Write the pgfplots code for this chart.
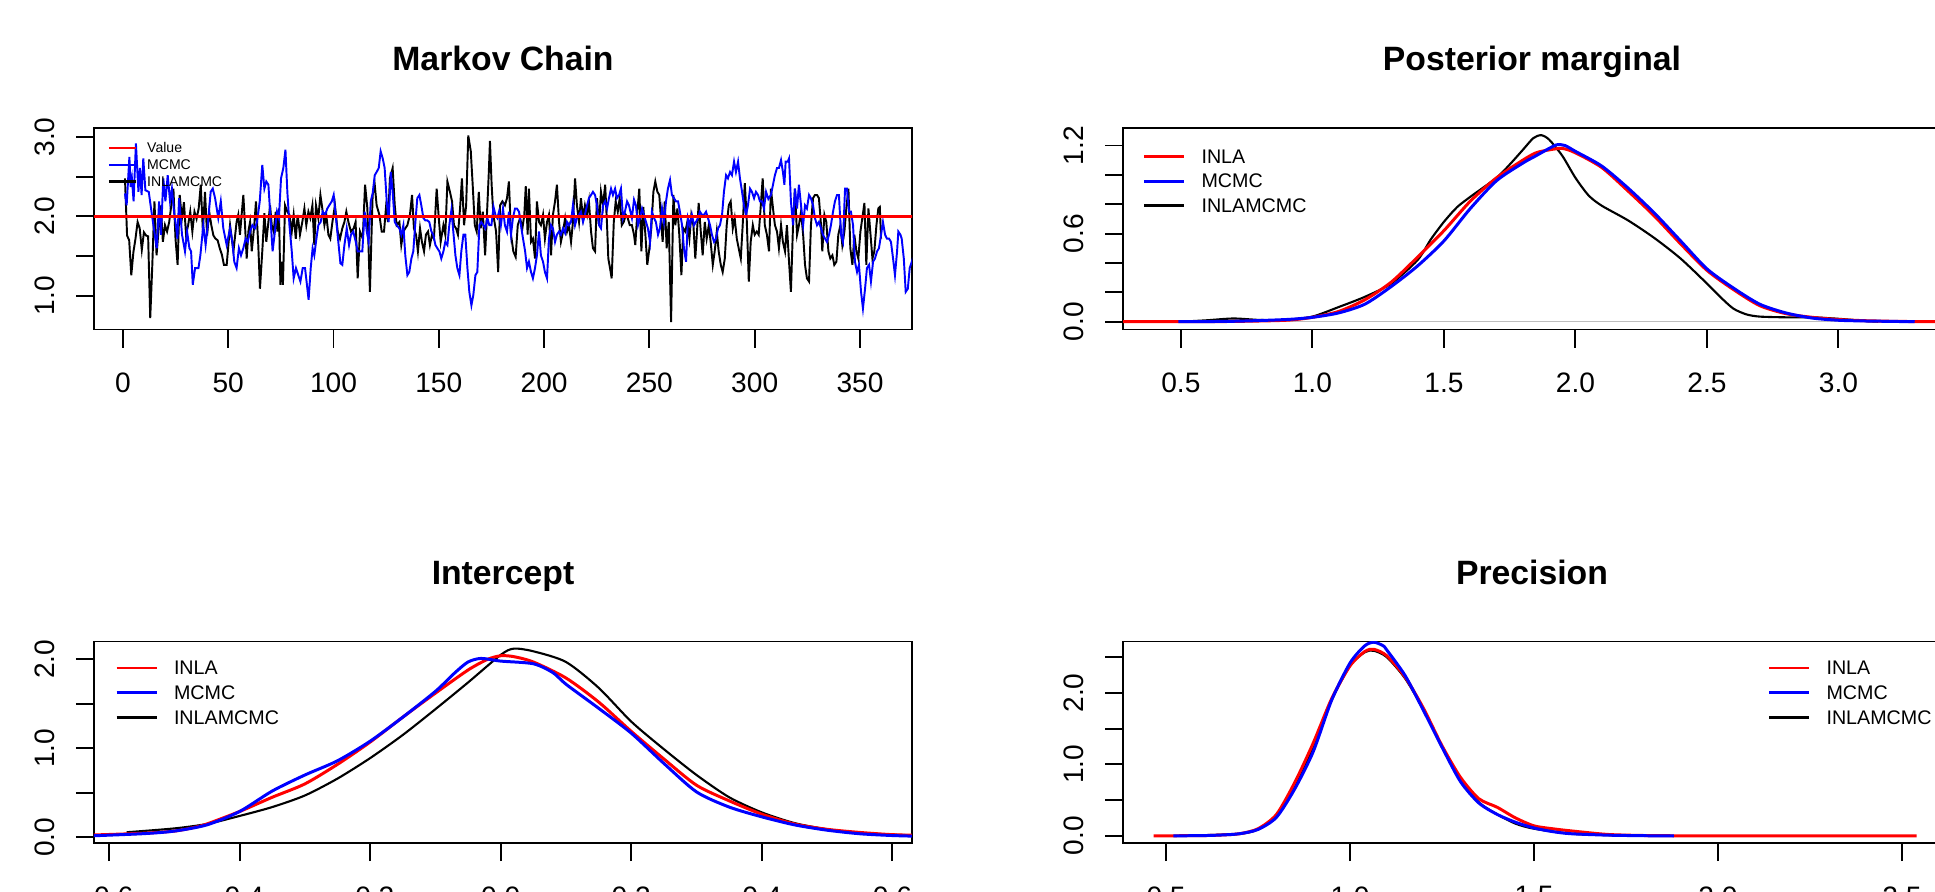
\documentclass[border=0pt]{standalone}
\usepackage{fontspec}
\setmainfont{Liberation Sans}
\usepackage{pgfplots}
\pgfplotsset{compat=1.18}

\definecolor{rgray}{HTML}{BEBEBE}

\pgfplotsset{
  rpanel/.style={
    scale only axis, width=81.8mm, height=20.15mm, anchor=south west,
    axis line style={line width=0.55pt},
    tick align=outside, tick pos=left, major tick length=1.8mm,
    tick style={black, line width=0.55pt},
    tick label style={font=\fontsize{8}{9}\selectfont},
    /pgf/number format/assume math mode=true,
    xticklabel shift=1.3mm,
    yticklabel style={rotate=90, anchor=south},
    yticklabel shift=0.9mm,
    every axis title shift=0pt,
    title style={font=\fontsize{9.6}{11}\selectfont\bfseries, at={(0.5,1)}, anchor=base, yshift=5.75mm},
    legend cell align=left,
    legend image code/.code={\draw[##1] (0mm,0mm) -- (4mm,0mm);},
    legend style={draw=none, fill=none, inner sep=0pt, font=\fontsize{5.6}{6}\selectfont,
      row sep=1.1mm, column sep=1.6mm, at={(0,1)}, anchor=north west,
      nodes={inner sep=0pt, text depth=0pt}},
  },
  dens/.style={line width=0.85pt, forget plot, smooth, tension=0.45},
}

\begin{document}
\begin{tikzpicture}
\useasboundingbox (0,0) rectangle (193.5mm,89.1mm);
\clip (0,0) rectangle (193.5mm,89.1mm);

% Markov chain
\begin{axis}[rpanel, at={(9.4mm,56.15mm)}, title={Markov Chain},
  xmin=-13.7, xmax=374.7, ymin=0.576, ymax=3.114,
  xtick={0,50,100,150,200,250,300,350},
  xticklabels={0,50,100,150,200,250,300,350},
  ytick={1,1.5,2,2.5,3}, yticklabels={1.0,{},2.0,{},3.0},
  legend image code/.code={\draw[#1] (0mm,0mm) -- (2.7mm,0mm);},
  legend style={font=\fontsize{4}{4.5}\selectfont, row sep=0.7mm, column sep=1.0mm,
    xshift=1.3mm, yshift=-1.4mm}]
\addplot[black, line width=0.55pt, forget plot] coordinates {
(1,2.48)(2,1.76)(3,1.70)(4,1.26)(5,1.55)(6,1.72)(7,1.93)(8,1.85)(9,1.58)(10,1.80)(11,1.76)(12,1.75)(13,0.72)(14,1.40)(15,2.19)(16,1.51)(17,1.85)(18,2.14)(19,1.68)(20,1.89)(21,1.81)(22,1.93)(23,2.14)(24,2.35)(25,1.72)(26,1.39)(27,2.27)(28,1.97)(29,2.18)(30,1.77)(31,1.89)(32,2.06)(33,1.81)(34,2.06)(35,1.97)(36,2.10)(37,2.40)(38,1.81)(39,2.31)(40,1.76)(41,2.06)(42,1.89)(43,1.76)(44,1.72)(45,1.70)(46,1.60)(47,1.52)(48,1.39)
(49.3,1.39)(50.9,1.89)(52.5,1.56)(54,1.93)(54.8,2.02)(55.6,1.77)(57.2,2.27)(58,1.89)(58.8,1.47)(59.6,1.81)(60.4,1.93)(61.2,1.56)(62.4,1.89)(63.2,2.19)(64.3,1.64)(65.1,1.09)(66.2,1.56)(67.2,2.04)(68.1,1.68)(69.1,1.93)(69.9,2.14)(70.7,1.89)(71.6,1.81)(72.6,2.06)(73.4,1.81)(74.1,2.10)(74.8,1.14)(75.4,1.43)(76,1.14)(77,2.14)(78.1,2.06)(79.1,2.02)(80.2,1.81)(81.1,2.02)(82.1,1.72)(83,2.02)(84.1,1.77)(85.2,1.93)(86.2,2.10)(87.1,1.89)(88.1,2.06)(89,1.98)(90,2.14)(90.9,1.64)(91.7,2.14)(92.8,1.98)(93.8,2.27)(94.7,2.10)(95.7,1.89)(96.6,2.02)(97.6,1.77)(98.5,1.72)(99.5,1.93)(100.7,2.14)(102,1.81)(103.1,1.72)(104.2,1.85)(105.2,1.93)(106.1,2.06)(107.1,1.93)(108.3,1.81)(109.6,1.85)(110.5,1.93)(111.5,1.22)(112.6,1.81)
(113.9,1.72)(115,2.40)(116.1,2.10)(117.3,1.05)(118.6,2.27)(119.6,2.40)(120.5,2.14)(121.8,2.02)(122.9,1.81)(124,1.81)(124.9,2.10)(125.9,1.93)(126.8,2.48)(128.1,2.61)(129.1,2.14)(130,1.89)(131.3,1.93)(132.2,1.64)(133.2,1.81)(134.1,1.85)(135.1,1.89)(136.3,2.02)(137.3,2.27)(138.2,1.85)(139.2,1.77)(140.1,1.56)(141.1,1.85)(142,1.68)(143,1.56)(143.9,1.77)(144.9,1.81)(145.8,1.64)(146.8,1.77)(147.7,1.72)(149,2.35)(150,1.98)(150.9,1.68)(152.2,1.89)(153.1,1.77)(154.1,2.44)(155.3,2.31)(156.3,2.19)(157.2,1.89)(158.2,1.85)(159.1,1.77)(160.1,2.10)(161,2.48)(162,1.89)(163,2.14)(164,3.02)(165.2,2.82)(166.1,2.40)(167.1,1.89)(168,1.81)(169,2.31)(169.9,1.85)(170.9,2.06)(172,1.51)(172.8,1.98)(173.7,2.52)(174.3,2.95)(175.1,2.40)(175.9,2.02)(177.2,1.81)
(178.2,1.30)(179.1,2.14)(180.2,2.19)(181.4,2.14)(182.4,2.23)(183.3,2.44)(184.3,1.77)(185.4,1.56)(186.5,1.49)(187.5,1.89)(188.6,1.98)(189.7,1.85)(190.6,2.02)(191.3,2.38)(192.2,1.77)(192.8,2.35)(193.8,1.68)(194.7,1.72)(195.7,1.47)(196.6,2.19)(197.6,1.93)(198.5,1.89)(199.5,2.02)(200.4,1.72)(201.4,1.93)(202.3,2.02)(203.3,1.51)(204.2,2.02)(205.2,2.19)(206.1,2.40)(207.1,1.93)(208,1.68)(209,1.81)(210,1.98)(210.9,1.81)(211.8,1.89)(212.8,1.68)(213.7,1.93)(214.7,2.48)(215.6,2.14)(216.6,1.93)(217.5,2.23)(218.5,1.98)(219.4,2.14)(220.4,2.02)(221.3,2.19)(222.3,1.81)(223.2,1.60)(224.2,1.56)(225.1,2.23)(226.1,1.89)(227,2.31)(228,2.14)(229,2.40)(229.9,1.89)(230.5,1.47)(231.3,1.35)(232.1,1.22)(233.1,1.93)(234,2.19)(235,2.06)(235.9,2.23)(236.9,1.89)(237.8,1.93)(238.8,2.02)(239.7,1.98)(240.7,1.89)
(241.7,1.89)(242.7,1.77)(243.3,1.64)(244.3,2.06)(245.2,2.35)(246.2,1.56)(247.1,2.12)(248.1,1.77)(249,1.39)(250,1.60)(250.9,1.85)(251.9,2.31)(252.8,2.44)(253.8,2.31)(254.7,2.27)(255.7,1.89)(256.3,1.68)(257.3,2.19)(258.2,1.60)(259.2,1.93)(260.3,0.67)(261.4,2.27)(262.3,1.89)(263.3,2.10)(264.2,1.77)(265.2,1.26)(266.1,1.85)(267.1,1.81)(268,1.93)(269,1.72)(269.9,2.02)(270.9,1.89)(271.8,1.47)(272.8,1.89)(273.4,2.17)(274.4,1.81)(275.3,1.51)(276.3,1.93)(277.2,1.72)(278.2,1.89)(279.1,1.68)(280.1,1.39)(281,1.56)(282,1.81)(282.9,1.56)(283.9,1.39)(284.8,1.30)(285.8,1.47)(286.7,1.89)(287.7,2.14)(288.6,2.19)(289.6,1.85)(290.5,1.98)(291.5,1.72)(292.4,1.60)(293.4,1.47)(294.3,1.89)(295.3,2.42)(296.2,1.98)(297.2,1.18)(298.1,1.68)(299.1,1.89)(300,1.77)(301,1.81)(301.9,1.77)(302.9,2.14)(303.8,2.48)(304.8,1.89)
(305.8,1.77)(306.8,1.56)(307.7,2.35)(308.7,2.10)(309.6,1.89)(310.6,1.81)(311.5,1.60)(312.5,1.89)(313.4,1.68)(314.4,1.56)(315.3,1.89)(316.3,1.43)(317.2,1.05)(318.2,1.89)(319.1,2.35)(320.1,1.77)(321,1.89)(322,2.06)(323,1.77)(323.9,1.39)(324.8,1.22)(325.8,1.18)(326.7,1.89)(327.7,2.23)(328.6,2.27)(329.6,2.27)(330.5,2.23)(331.5,1.89)(332.1,1.56)(333.1,2.02)(334,1.93)(335,1.56)(335.9,1.47)(336.9,1.51)(337.8,1.39)(338.8,1.43)(339.7,1.77)(340.7,1.89)(341.6,1.64)(342.6,1.81)(343.5,2.10)(344.5,2.35)(345.4,1.60)(346.4,1.39)(347.3,1.77)(348.3,1.56)(349.2,1.47)(350.2,1.81)(351.1,1.98)(352.1,2.17)(353,1.39)(354,2.10)(355,1.77)(355.9,1.47)(356.8,1.56)(357.8,1.89)(358.7,2.10)(359.4,2.12)(360,1.72)
};
\addplot[blue, line width=0.55pt, forget plot] coordinates {
(1,2.29)(1.8,2.14)(3.1,2.75)(3.7,2.37)(4.3,2.48)(5.1,2.19)(6.2,2.92)(7.4,2.31)(8.1,2.61)(8.9,2.27)(9.7,2.73)(10.7,2.33)(12.3,2.31)(13.8,2.02)(16.1,1.60)(17.2,2.19)(18.1,1.77)(19.2,2.48)(20.2,2.19)(21.3,2.52)(22.4,2.19)(23.3,2.35)(24.3,2.06)(25.2,1.89)(25.9,1.72)(26.7,2.23)(28.1,1.77)(29.5,1.56)(30.5,1.81)(31.6,1.60)(32.4,1.56)(33.2,1.14)(34.3,1.35)(35.9,1.35)(36.8,1.51)(38.2,1.89)(39.3,1.64)(40.3,1.89)(41.7,2.31)(42.7,2.35)(43.8,2.23)(45.3,1.98)(46.5,2.19)(47.7,1.85)(49.3,1.64)
(50.9,1.85)(52,1.68)(52.9,1.43)(54,1.35)(55.1,1.60)(56.1,1.51)(57.2,1.60)(58.3,1.72)(59.3,1.68)(60.4,1.81)(61.5,1.89)(62.7,1.85)(63.7,1.93)(65,2.19)(66.2,2.65)(67.2,2.35)(68.1,2.44)(69.1,2.40)(70,2.02)(71.1,1.56)(72.2,1.81)(73.2,2.06)(74.1,1.98)(75.1,2.48)(76.2,2.61)(77.2,2.84)(78.1,2.31)(79.1,1.89)(80.2,1.56)(81.1,1.22)(82.2,1.35)(83.3,1.26)(84.3,1.18)(85.4,1.35)(86.5,1.35)(87.4,1.14)(88.2,0.95)(89.2,1.35)(90.1,1.60)(90.9,1.51)(91.7,1.68)(92.8,1.89)(93.9,1.93)(94.9,2.06)(96,2.02)(97.1,2.10)(98,2.14)(99.2,2.19)(100.1,2.27)(101.2,1.98)(102.3,1.68)(103.3,1.41)(104.2,1.39)(105.2,1.64)(106.3,1.85)(107.4,1.64)(108.3,1.77)(109.4,1.81)(110.6,1.68)(111.5,1.56)(112.6,1.56)(113.7,1.56)
(114.8,2.06)(115.8,1.81)(116.7,1.68)(117.7,2.19)(118.6,2.29)(119.6,2.52)(120.5,2.56)(121.5,2.61)(122.4,2.82)(123.4,2.73)(124.3,2.61)(125.3,2.19)(126.2,1.93)(127.2,2.56)(128.1,2.31)(129.1,1.93)(130,1.89)(131.3,1.85)(132.2,1.77)(133.2,1.89)(134.1,1.51)(135.1,1.26)(136,1.30)(137,1.47)(137.9,1.56)(138.9,1.93)(139.8,2.23)(140.8,2.27)(141.7,2.14)(142.7,1.98)(143.6,1.95)(144.6,1.95)(145.5,1.93)(146.5,1.81)(147.4,1.77)(148.4,1.64)(149.3,1.60)(150.3,1.56)(151.2,1.47)(152.2,1.56)(153.1,1.68)(154.1,1.64)(155,1.89)(156,2.08)(156.9,1.81)(157.9,1.51)(158.8,1.35)(159.8,1.26)(160.7,1.56)(161.7,1.77)(162.6,1.77)(163.6,1.35)(164.5,1.05)(165.5,0.88)(166.4,1.01)(167.4,1.26)(168.3,1.30)(169.3,1.89)(170.2,1.93)(171.2,1.89)(172.1,1.85)(173.1,1.98)(174,1.89)(175,1.89)(176,2.12)(176.9,2.02)(177.8,1.98)
(178.6,2.06)(179.5,1.89)(180.5,2.10)(181.4,1.89)(182.4,1.81)(183.3,2.06)(184.3,1.77)(185.2,1.98)(186.2,2.10)(187.1,2.10)(188.1,2.06)(189,1.89)(190,1.72)(191,1.56)(191.9,1.35)(192.8,1.43)(193.8,1.30)(194.7,1.22)(195.7,1.35)(196.6,1.51)(197.6,1.81)(198.5,1.51)(199.5,1.43)(200.4,1.30)(201.4,1.22)(202.3,1.72)(203.3,1.89)(204.2,1.85)(205.2,1.68)(206.1,1.77)(207.1,1.81)(208,1.77)(209,1.85)(210,1.79)(210.9,1.93)(211.8,1.89)(212.8,1.93)(213.7,2.14)(214.7,1.89)(215.6,1.98)(216.6,2.02)(217.5,2.06)(218.5,1.93)(219.4,2.02)(220.4,2.14)(221.3,2.23)(222.3,2.27)(223.2,2.31)(224.2,2.27)(225.1,2.14)(226.1,1.89)(227,1.85)(228,2.14)(229,2.19)(229.9,2.10)(230.8,2.23)(231.8,2.35)(232.7,2.27)(233.7,2.35)(234.6,2.23)(235.6,2.27)(236.5,2.35)(237.5,1.98)(238.4,2.06)(239.4,2.19)(240.3,2.14)
(241.7,1.98)(242.7,2.21)(243.6,2.14)(244.6,1.89)(245.5,1.98)(246.5,2.10)(247.4,2.02)(248.4,1.93)(249.3,1.85)(250.3,1.68)(251.2,2.06)(252.2,1.98)(253.1,1.93)(254.1,1.77)(255,1.85)(256,2.10)(256.9,1.93)(257.9,2.19)(258.8,2.35)(259.8,2.46)(260.7,2.27)(261.7,2.23)(262.6,2.19)(263.6,2.19)(264.5,2.06)(265.5,1.89)(266.4,1.60)(267.4,1.43)(268.3,1.98)(269.3,1.89)(270.2,2.02)(271.2,1.89)(272.1,1.93)(273.1,1.98)(274,2.06)(275,2.02)(275.9,2.02)(276.9,2.06)(277.8,1.98)(278.8,1.89)(279.7,1.77)(280.7,1.68)(281.6,1.72)(282.6,1.85)(283.5,1.89)(284.5,2.02)(285.4,2.31)(286.4,2.52)(287.3,2.48)(288.3,2.56)(289.2,2.52)(290.2,2.69)(291.1,2.56)(292.1,2.69)(293,2.48)(294,2.31)(294.9,2.14)(295.9,2.02)(296.8,2.14)(297.8,2.35)(298.7,2.31)(299.7,2.23)(300.6,2.31)(301.6,2.27)(302.5,2.19)(303.5,2.19)(304.4,2.10)
(305.4,2.31)(306.5,2.22)(307.7,2.27)(308.7,2.40)(309.6,2.52)(310.6,2.61)(311.5,2.61)(312.5,2.71)(313.4,2.56)(314.1,2.40)(314.7,2.69)(315.7,2.69)(316.3,2.73)(317.2,2.19)(318.2,1.89)(319.1,2.35)(320.1,2.10)(321,2.40)(322,2.14)(323,1.89)(323.9,2.14)(324.8,2.10)(325.8,2.27)(326.7,2.23)(327.7,2.14)(328.6,1.98)(329.6,1.89)(330.5,1.93)(331.5,1.85)(332.4,1.77)(333.4,1.72)(334.3,1.68)(335.3,1.77)(336.2,1.89)(337.2,2.06)(338.1,2.19)(339.1,2.27)(340,2.27)(341,1.77)(341.9,1.68)(342.9,2.35)(343.8,2.35)(344.8,2.06)(345.7,2.06)(346.7,1.89)(347.6,1.43)(348.6,1.30)(349.5,1.39)(350.5,1.05)(351.4,0.84)(352.4,1.09)(353.3,1.35)(354.3,1.39)(355.2,1.18)(356.2,1.43)(357.1,1.47)(358.1,1.56)(359,1.60)(360,1.77)(360.9,1.93)(361.9,1.77)(362.8,1.72)(363.8,1.72)(364.7,1.68)(365.7,1.47)(366.6,1.26)(367.6,1.56)(368.2,1.81)(369.2,1.77)(369.8,1.72)(370.8,1.47)(371.7,1.05)(372.7,1.09)(373.6,1.35)(374.6,1.43)(376,1.55)
};
\addplot[red, line width=0.7pt, forget plot] coordinates {(-20,2) (400,2)};
\addlegendimage{red, line width=0.7pt}\addlegendentry{Value}
\addlegendimage{blue, line width=0.7pt}\addlegendentry{MCMC}
\addlegendimage{black, line width=0.7pt}\addlegendentry{INLAMCMC}
\end{axis}

% Posterior marginal
\begin{axis}[rpanel, at={(112.3mm,56.15mm)}, title={Posterior marginal},
  xmin=0.28, xmax=3.39, ymin=-0.053, ymax=1.319,
  xtick={0.5,1,1.5,2,2.5,3}, xticklabels={0.5,1.0,1.5,2.0,2.5,3.0},
  ytick={0,0.2,0.4,0.6,0.8,1.0,1.2}, yticklabels={0.0,{},{},0.6,{},{},1.2},
  legend style={xshift=1.9mm, yshift=-2.1mm}]
\addplot[rgray, line width=0.4pt, forget plot] coordinates {(0,0) (4,0)};
\addplot[black, dens, line width=0.6pt] coordinates {
(0.5,0)(0.6,0.01)(0.7,0.022)(0.8,0.012)(0.9,0.012)(1.0,0.035)(1.1,0.10)(1.2,0.17)(1.3,0.26)(1.4,0.42)(1.45,0.56)(1.5,0.68)(1.55,0.78)(1.6,0.85)(1.7,0.98)(1.75,1.07)(1.8,1.17)(1.84,1.25)(1.87,1.27)(1.9,1.24)(1.95,1.13)(2.0,0.98)(2.05,0.86)(2.1,0.79)(2.2,0.69)(2.3,0.57)(2.4,0.43)(2.5,0.26)(2.55,0.17)(2.6,0.09)(2.65,0.05)(2.7,0.035)(2.8,0.03)(2.9,0.03)(3.0,0.02)(3.1,0.005)(3.15,0)
};
\addplot[red, dens] coordinates {
(0.2,0)(0.5,0)(0.7,0.002)(0.9,0.01)(1.0,0.03)(1.1,0.07)(1.2,0.15)(1.3,0.27)(1.4,0.44)(1.5,0.62)(1.6,0.82)(1.7,0.98)(1.8,1.10)(1.85,1.15)(1.9,1.17)(1.95,1.18)(2.0,1.15)(2.1,1.05)(2.2,0.89)(2.3,0.72)(2.4,0.53)(2.5,0.35)(2.6,0.22)(2.7,0.11)(2.8,0.055)(2.9,0.03)(3.0,0.015)(3.1,0.007)(3.2,0.003)(3.3,0.001)(3.5,0)
};
\addplot[blue, dens] coordinates {
(0.49,0)(0.7,0.003)(0.9,0.015)(1.0,0.03)(1.1,0.06)(1.2,0.12)(1.3,0.24)(1.4,0.38)(1.5,0.55)(1.6,0.77)(1.7,0.96)(1.8,1.08)(1.85,1.13)(1.9,1.18)(1.93,1.205)(1.96,1.2)(2.0,1.16)(2.1,1.06)(2.2,0.91)(2.3,0.74)(2.4,0.55)(2.5,0.36)(2.6,0.23)(2.7,0.12)(2.8,0.06)(2.9,0.025)(3.0,0.01)(3.1,0.005)(3.29,0)
};
\addlegendimage{red, line width=0.8pt}\addlegendentry{INLA}
\addlegendimage{blue, line width=0.8pt}\addlegendentry{MCMC}
\addlegendimage{black, line width=0.8pt}\addlegendentry{INLAMCMC}
\end{axis}

% Intercept
\begin{axis}[rpanel, at={(9.4mm,4.8mm)}, title={Intercept},
  xmin=-0.623, xmax=0.63, ymin=-0.064, ymax=2.2,
  xtick={-0.6,-0.4,-0.2,0,0.2,0.4,0.6}, xticklabels={-0.6,-0.4,-0.2,0.0,0.2,0.4,0.6},
  ytick={0,0.5,1,1.5,2}, yticklabels={0.0,{},1.0,{},2.0},
  legend style={xshift=2.05mm, yshift=-1.9mm}]
\addplot[black, dens, line width=0.6pt] coordinates {
(-0.573,0.057)(-0.5,0.10)(-0.45,0.15)(-0.4,0.24)(-0.35,0.34)(-0.3,0.47)(-0.25,0.66)(-0.2,0.89)(-0.15,1.15)(-0.1,1.44)(-0.05,1.74)(0.0,2.05)(0.02,2.12)(0.05,2.09)(0.1,1.97)(0.15,1.68)(0.2,1.30)(0.25,0.99)(0.3,0.70)(0.35,0.45)(0.4,0.28)(0.45,0.16)(0.5,0.09)(0.55,0.05)(0.6,0.03)(0.65,0.02)
};
\addplot[red, dens] coordinates {
(-0.65,0.02)(-0.55,0.045)(-0.5,0.07)(-0.47,0.11)(-0.45,0.15)(-0.4,0.29)(-0.35,0.45)(-0.3,0.60)(-0.25,0.82)(-0.2,1.07)(-0.15,1.35)(-0.1,1.62)(-0.05,1.88)(-0.02,2.0)(0.0,2.04)(0.02,2.03)(0.05,1.97)(0.1,1.79)(0.15,1.52)(0.2,1.19)(0.25,0.88)(0.3,0.585)(0.35,0.41)(0.4,0.26)(0.45,0.15)(0.5,0.09)(0.55,0.055)(0.6,0.03)(0.65,0.02)
};
\addplot[blue, dens] coordinates {
(-0.65,0.01)(-0.55,0.04)(-0.5,0.07)(-0.45,0.14)(-0.4,0.29)(-0.35,0.52)(-0.3,0.70)(-0.25,0.86)(-0.2,1.08)(-0.15,1.35)(-0.1,1.64)(-0.07,1.85)(-0.05,1.97)(-0.03,2.01)(0.0,1.98)(0.05,1.95)(0.08,1.85)(0.1,1.72)(0.15,1.45)(0.2,1.17)(0.25,0.83)(0.3,0.51)(0.35,0.34)(0.4,0.23)(0.45,0.14)(0.5,0.08)(0.55,0.04)(0.6,0.02)(0.65,0.01)
};
\addlegendimage{red, line width=0.8pt}\addlegendentry{INLA}
\addlegendimage{blue, line width=0.8pt}\addlegendentry{MCMC}
\addlegendimage{black, line width=0.8pt}\addlegendentry{INLAMCMC}
\end{axis}

% Precision
\begin{axis}[rpanel, at={(112.3mm,4.8mm)}, title={Precision},
  xmin=0.383, xmax=2.606, ymin=-0.1, ymax=2.72,
  xtick={0.5,1,1.5,2,2.5}, xticklabels={0.5,1.0,1.5,2.0,2.5},
  ytick={0,0.5,1,1.5,2,2.5}, yticklabels={0.0,{},1.0,{},2.0,{}},
  legend style={xshift=64.4mm, yshift=-1.9mm}]
\addplot[black, dens, line width=0.6pt] coordinates {
(0.55,0)(0.7,0.03)(0.75,0.09)(0.8,0.27)(0.85,0.68)(0.9,1.25)(0.95,1.9)(1.0,2.38)(1.04,2.57)(1.065,2.59)(1.1,2.50)(1.15,2.20)(1.2,1.76)(1.25,1.24)(1.3,0.78)(1.35,0.47)(1.4,0.30)(1.45,0.17)(1.5,0.10)(1.6,0.03)(1.7,0.01)(1.75,0)
};
\addplot[red, dens] coordinates {
(0.466,0)(0.6,0.004)(0.65,0.012)(0.7,0.03)(0.75,0.10)(0.8,0.30)(0.85,0.75)(0.9,1.30)(0.95,1.92)(1.0,2.38)(1.04,2.58)(1.065,2.61)(1.1,2.52)(1.15,2.22)(1.2,1.78)(1.25,1.26)(1.3,0.82)(1.35,0.52)(1.4,0.40)(1.45,0.25)(1.5,0.14)(1.55,0.10)(1.6,0.07)(1.7,0.02)(1.8,0.005)(1.9,0.001)(2.0,0)(2.54,0)
};
\addplot[blue, dens] coordinates {
(0.52,0)(0.6,0.004)(0.65,0.012)(0.7,0.03)(0.75,0.09)(0.8,0.26)(0.85,0.66)(0.9,1.18)(0.95,1.90)(1.0,2.42)(1.04,2.66)(1.065,2.71)(1.09,2.66)(1.1,2.60)(1.15,2.24)(1.2,1.75)(1.25,1.24)(1.3,0.76)(1.35,0.46)(1.4,0.30)(1.45,0.19)(1.5,0.11)(1.55,0.06)(1.6,0.03)(1.7,0.01)(1.8,0.002)(1.88,0)
};
\addlegendimage{red, line width=0.8pt}\addlegendentry{INLA}
\addlegendimage{blue, line width=0.8pt}\addlegendentry{MCMC}
\addlegendimage{black, line width=0.8pt}\addlegendentry{INLAMCMC}
\end{axis}
\end{tikzpicture}
\end{document}
